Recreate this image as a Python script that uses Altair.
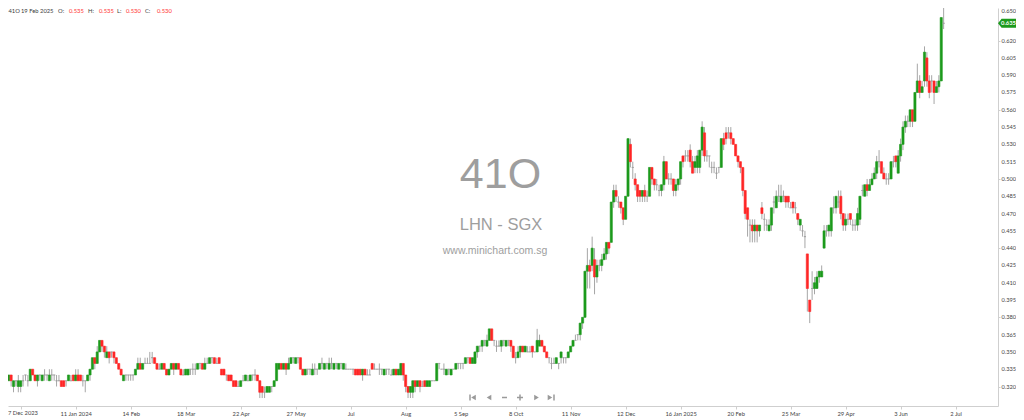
import json
import altair as alt
import pandas as pd

# Daily prices of 41O (LHN) in thousandths of a dollar: 335 -> 0.335
OPEN = [
    345, 335, 330, 325, 330, 320, 325, 320, 320, 325,
    330, 325, 325, 335, 330, 325, 330, 325, 330, 330,
    325, 330, 330, 325, 325, 325, 325, 325, 325, 325,
    330, 325, 330, 330, 325, 325, 325, 330, 335, 345,
    340, 350, 360, 355, 345, 350, 350, 350, 345, 340,
    335, 325, 330, 330, 330, 330, 330, 335, 340, 335,
    340, 340, 340, 345, 345, 340, 335, 335, 340, 335,
    330, 335, 340, 335, 340, 335, 330, 330, 330, 335,
    335, 335, 335, 340, 340, 335, 340, 340, 345, 345,
    340, 345, 335, 335, 330, 330, 330, 325, 325, 320,
    320, 325, 325, 325, 325, 330, 330, 330, 325, 320,
    315, 315, 315, 320, 320, 325, 335, 340, 335, 340,
    335, 340, 345, 340, 345, 345, 335, 330, 335, 335,
    330, 335, 335, 335, 340, 335, 340, 335, 340, 335,
    340, 335, 340, 335, 335, 335, 335, 335, 335, 335,
    335, 330, 335, 330, 330, 340, 335, 335, 335, 335,
    330, 335, 335, 330, 330, 335, 330, 330, 340, 330,
    320, 315, 315, 325, 320, 325, 320, 325, 320, 320,
    325, 325, 325, 340, 335, 335, 330, 335, 330, 335,
    335, 340, 340, 340, 340, 345, 345, 340, 340, 350,
    355, 355, 360, 355, 360, 370, 360, 355, 355, 355,
    360, 355, 360, 360, 355, 345, 345, 350, 355, 350,
    350, 350, 355, 350, 350, 355, 360, 355, 350, 345,
    340, 340, 340, 340, 345, 345, 345, 345, 350, 355,
    360, 365, 365, 375, 380, 420, 425, 425, 430, 415,
    425, 425, 430, 435, 445, 445, 480, 490, 480, 480,
    475, 465, 485, 530, 510, 500, 495, 490, 485, 490,
    485, 485, 510, 500, 495, 490, 490, 495, 515, 500,
    500, 500, 490, 495, 500, 520, 520, 520, 525, 515,
    510, 510, 510, 525, 540, 520, 520, 510, 510, 505,
    510, 510, 535, 540, 540, 540, 535, 530, 520, 515,
    510, 490, 475, 460, 460, 455, 460, 455, 475, 465,
    460, 455, 460, 480, 475, 485, 480, 485, 485, 485,
    475, 480, 475, 470, 460, 455, 450, 435, 395, 405,
    405, 405, 415, 415, 440, 455, 455, 455, 475, 475,
    480, 485, 470, 460, 465, 470, 460, 460, 460, 465,
    490, 485, 495, 490, 495, 500, 505, 515, 515, 505,
    500, 500, 500, 515, 520, 505, 520, 530, 545, 550,
    550, 560, 550, 575, 585, 575, 585, 605, 585, 585,
    585, 575, 580, 585, 635,
]
HIGH = [
    345, 335, 330, 330, 330, 325, 325, 330, 325, 330,
    330, 330, 335, 335, 330, 330, 330, 330, 335, 330,
    335, 335, 330, 330, 330, 325, 325, 325, 330, 330,
    330, 335, 335, 330, 330, 325, 330, 335, 345, 345,
    355, 360, 360, 355, 355, 350, 350, 350, 345, 340,
    335, 330, 330, 330, 330, 330, 335, 345, 345, 340,
    345, 345, 350, 350, 345, 340, 340, 340, 340, 335,
    335, 340, 340, 340, 340, 335, 335, 335, 335, 335,
    340, 340, 340, 340, 340, 345, 345, 345, 345, 345,
    345, 345, 335, 335, 330, 330, 330, 325, 325, 325,
    325, 330, 330, 330, 330, 330, 335, 330, 325, 320,
    320, 320, 320, 320, 325, 340, 340, 340, 340, 340,
    345, 345, 345, 345, 345, 345, 335, 335, 335, 335,
    340, 340, 335, 340, 345, 340, 340, 345, 345, 340,
    340, 340, 340, 340, 340, 335, 335, 335, 335, 335,
    335, 335, 335, 335, 335, 340, 340, 335, 340, 335,
    335, 335, 335, 335, 335, 335, 335, 340, 340, 330,
    320, 320, 325, 325, 325, 325, 325, 325, 325, 325,
    325, 325, 340, 340, 335, 340, 335, 335, 335, 335,
    340, 340, 340, 340, 345, 345, 345, 345, 350, 355,
    355, 360, 360, 365, 370, 370, 360, 360, 360, 360,
    360, 360, 360, 360, 355, 350, 355, 355, 355, 355,
    355, 355, 355, 350, 370, 365, 360, 355, 350, 345,
    345, 345, 345, 340, 350, 345, 345, 350, 355, 360,
    365, 365, 375, 380, 420, 440, 430, 450, 440, 430,
    430, 435, 440, 445, 445, 480, 495, 495, 485, 480,
    475, 485, 535, 535, 515, 505, 495, 490, 490, 495,
    490, 510, 510, 500, 500, 495, 495, 520, 515, 505,
    505, 500, 500, 500, 515, 520, 525, 525, 530, 520,
    520, 525, 525, 550, 545, 525, 520, 515, 515, 510,
    510, 535, 540, 545, 545, 545, 535, 530, 520, 515,
    510, 490, 475, 465, 465, 465, 460, 460, 480, 470,
    465, 465, 475, 485, 490, 495, 495, 490, 485, 485,
    480, 480, 480, 470, 465, 460, 455, 435, 395, 420,
    415, 420, 420, 425, 460, 460, 460, 475, 485, 485,
    490, 490, 470, 470, 470, 470, 465, 465, 475, 485,
    495, 495, 500, 500, 505, 510, 520, 525, 515, 510,
    505, 505, 515, 520, 520, 525, 535, 550, 555, 555,
    560, 560, 575, 600, 590, 585, 615, 610, 590, 590,
    585, 585, 590, 640, 650,
]
LOW = [
    335, 325, 320, 325, 320, 315, 320, 315, 315, 320,
    325, 320, 325, 330, 325, 320, 325, 325, 325, 325,
    325, 325, 325, 320, 325, 320, 320, 320, 325, 325,
    325, 325, 325, 325, 320, 315, 325, 325, 335, 335,
    340, 350, 350, 345, 345, 340, 345, 340, 340, 335,
    330, 325, 325, 325, 325, 325, 330, 335, 335, 335,
    340, 340, 340, 340, 340, 335, 335, 335, 335, 330,
    330, 335, 330, 335, 335, 330, 330, 330, 330, 330,
    330, 330, 335, 335, 335, 335, 340, 340, 340, 340,
    340, 340, 330, 330, 325, 325, 325, 320, 320, 320,
    320, 325, 325, 325, 325, 325, 325, 325, 310, 310,
    310, 315, 315, 315, 320, 325, 335, 335, 335, 330,
    335, 340, 340, 340, 340, 335, 330, 330, 330, 330,
    330, 330, 330, 335, 335, 335, 335, 335, 335, 335,
    335, 335, 335, 335, 335, 335, 335, 330, 330, 330,
    330, 325, 330, 330, 330, 335, 335, 335, 330, 330,
    330, 330, 330, 330, 330, 330, 330, 330, 325, 315,
    310, 310, 310, 315, 320, 315, 320, 320, 320, 320,
    325, 325, 325, 335, 335, 330, 330, 330, 330, 335,
    335, 335, 335, 335, 340, 340, 340, 340, 340, 345,
    350, 350, 355, 355, 360, 360, 355, 350, 355, 350,
    355, 355, 355, 350, 345, 340, 345, 345, 350, 350,
    350, 350, 345, 350, 350, 355, 355, 350, 345, 340,
    335, 340, 340, 335, 340, 340, 340, 345, 350, 355,
    360, 360, 360, 370, 380, 405, 405, 420, 400, 410,
    420, 420, 430, 430, 435, 445, 475, 480, 475, 470,
    460, 465, 485, 510, 500, 490, 480, 480, 480, 480,
    480, 485, 495, 490, 490, 485, 485, 490, 500, 495,
    495, 485, 485, 490, 495, 510, 515, 515, 510, 505,
    505, 505, 505, 520, 515, 515, 510, 505, 505, 500,
    505, 510, 525, 530, 535, 530, 530, 520, 510, 505,
    485, 465, 450, 445, 445, 445, 445, 450, 465, 455,
    455, 455, 455, 470, 475, 480, 480, 480, 475, 475,
    475, 470, 470, 460, 455, 450, 440, 385, 375, 395,
    400, 405, 410, 415, 440, 450, 450, 450, 470, 470,
    475, 465, 455, 455, 460, 460, 455, 455, 455, 460,
    485, 485, 485, 490, 495, 500, 500, 510, 505, 500,
    495, 495, 500, 510, 510, 505, 515, 525, 540, 545,
    545, 545, 550, 575, 570, 575, 580, 580, 570, 575,
    565, 575, 575, 585, 630,
]
CLOSE = [
    335, 325, 325, 330, 325, 325, 325, 325, 325, 325,
    330, 325, 335, 330, 325, 330, 330, 330, 330, 330,
    330, 330, 330, 325, 325, 320, 320, 325, 330, 325,
    325, 330, 325, 325, 325, 325, 330, 335, 345, 340,
    350, 360, 355, 350, 350, 345, 350, 345, 340, 335,
    330, 330, 330, 330, 330, 330, 335, 340, 335, 340,
    340, 340, 340, 345, 340, 335, 335, 340, 335, 330,
    335, 340, 335, 340, 335, 330, 330, 335, 335, 335,
    335, 335, 340, 340, 335, 340, 340, 345, 345, 340,
    340, 340, 330, 330, 330, 325, 325, 320, 320, 320,
    325, 325, 330, 325, 330, 330, 330, 325, 315, 315,
    315, 320, 320, 320, 325, 340, 340, 335, 340, 335,
    340, 345, 345, 345, 345, 335, 330, 335, 335, 335,
    335, 335, 335, 340, 340, 340, 340, 340, 340, 340,
    340, 340, 340, 340, 335, 335, 335, 335, 330, 330,
    330, 335, 330, 330, 330, 335, 335, 335, 335, 335,
    335, 335, 335, 330, 335, 330, 335, 340, 330, 320,
    315, 320, 325, 320, 325, 320, 320, 320, 325, 325,
    325, 325, 340, 340, 335, 335, 335, 335, 335, 335,
    340, 340, 340, 340, 345, 345, 340, 345, 350, 355,
    355, 360, 360, 360, 370, 360, 360, 355, 355, 360,
    360, 360, 360, 355, 345, 345, 350, 355, 350, 355,
    350, 350, 350, 350, 360, 360, 355, 350, 345, 345,
    340, 340, 345, 340, 350, 345, 345, 350, 355, 360,
    360, 365, 375, 380, 420, 425, 420, 440, 415, 425,
    425, 430, 435, 445, 440, 480, 490, 485, 480, 475,
    465, 485, 535, 515, 510, 495, 485, 485, 490, 485,
    485, 510, 500, 495, 495, 490, 495, 515, 500, 500,
    500, 490, 495, 500, 515, 515, 520, 520, 515, 505,
    515, 520, 525, 545, 520, 520, 520, 510, 510, 505,
    510, 535, 530, 535, 540, 535, 530, 520, 515, 510,
    490, 470, 465, 460, 455, 460, 455, 460, 470, 465,
    460, 460, 475, 480, 485, 485, 485, 485, 480, 480,
    475, 475, 475, 465, 465, 455, 450, 405, 385, 405,
    410, 415, 420, 420, 455, 455, 460, 475, 475, 485,
    480, 470, 460, 465, 465, 465, 460, 460, 470, 485,
    490, 495, 490, 495, 500, 505, 515, 515, 505, 500,
    500, 500, 515, 515, 515, 520, 530, 545, 550, 550,
    560, 550, 575, 585, 575, 580, 610, 585, 575, 585,
    575, 580, 585, 640, 635,
]

# x axis: bar index of each date label
TICK_INDEX = [8, 31, 54, 77, 100, 123, 146, 169, 192, 215, 238, 261, 284, 307, 330, 353, 376, 399]
TICK_LABELS = ["7 Dec 2023", "11 Jan 2024", "14 Feb", "18 Mar", "22 Apr", "27 May", "Jul", "Aug",
               "5 Sep", "8 Oct", "11 Nov", "12 Dec", "16 Jan 2025", "20 Feb", "25 Mar", "29 Apr",
               "3 Jun", "2 Jul"]
PRICE_TICKS = [0.320, 0.335, 0.350, 0.365, 0.380, 0.395, 0.410, 0.425, 0.440, 0.455, 0.470,
               0.485, 0.500, 0.515, 0.530, 0.545, 0.560, 0.575, 0.590, 0.605, 0.620, 0.635, 0.650]

SYMBOL = "41O"
NAME = "LHN - SGX"
SITE = "www.minichart.com.sg"
HEADER_DATE = "19 Feb 2025"
HEADER_INDEX = 306

GREEN = "#1c9a1c"
RED = "#ff2626"
GRAY = "#a6a6a6"
SMALL = 5.8
AXIS_TEXT = "#444444"

n = min(len(OPEN), len(HIGH), len(LOW), len(CLOSE))
df = pd.DataFrame({
    "i": list(range(n)),
    "o": [v / 1000 for v in OPEN[:n]],
    "h": [v / 1000 for v in HIGH[:n]],
    "l": [v / 1000 for v in LOW[:n]],
    "c": [v / 1000 for v in CLOSE[:n]],
})
df["dir"] = ["up" if c > o else ("down" if c < o else "flat") for o, c in zip(df["o"], df["c"])]
last = n - 1

W, H = 990, 398
Y_TOP = 0.64827
xscale = alt.Scale(domain=[2.69, 416.74], nice=False, zero=False)
yscale = alt.Scale(domain=[0.3031, Y_TOP], nice=False, zero=False)

# first label is drawn separately (it would run past the left edge)
axis_labels = [""] + TICK_LABELS[1:]
label_expr = f"{json.dumps(axis_labels)}[indexof({json.dumps(TICK_INDEX)}, datum.value)]"

base = alt.Chart(df)

wicks = base.mark_rule(color=GRAY, strokeWidth=1, clip=True).encode(
    x=alt.X("i:Q", scale=xscale, title=None,
            axis=alt.Axis(values=TICK_INDEX, labelExpr=label_expr, tickSize=3,
                          labelPadding=1, labelFlush=False, labelOverlap=False)),
    y=alt.Y("l:Q", scale=yscale, title=None,
            axis=alt.Axis(orient="right", values=PRICE_TICKS, tickSize=2, labels=False)),
    y2="h:Q",
)

color_scale = alt.Scale(domain=["up", "down", "flat"], range=[GREEN, RED, "#9a9a9a"])
bodies = base.transform_calculate(
    x1="datum.i - 0.45", x2="datum.i + 0.45",
    top="max(datum.o, datum.c)", bot="min(datum.o, datum.c)",
).mark_rect(clip=True, strokeWidth=0.6).encode(
    x=alt.X("x1:Q", scale=xscale, title=None),
    x2="x2:Q",
    y=alt.Y("top:Q", scale=yscale, title=None),
    y2="bot:Q",
    color=alt.Color("dir:N", scale=color_scale, legend=None),
    stroke=alt.Stroke("dir:N", scale=color_scale, legend=None),
)

# price labels of the right axis, drawn as text so none is culled
price_df = pd.DataFrame({"v": PRICE_TICKS})
price_labels = alt.Chart(price_df).transform_calculate(
    pos=f"min(datum.v, {Y_TOP} - 0.0022)"
).mark_text(font="Lato", fontSize=5.7, color=AXIS_TEXT, align="left", baseline="middle",
            clip=False).encode(
    x=alt.value(W + 3.5),
    y=alt.Y("pos:Q", scale=yscale, title=None),
    text=alt.Text("v:Q", format=".3f"),
)

last_bar = base.transform_filter(f"datum.i == {last}")
tag_shape = "M -1 0 L -0.6 -0.5 L 1 -0.5 L 1 0.5 L -0.6 0.5 Z"
tag = last_bar.mark_point(shape=tag_shape, filled=True, size=324, color=GREEN, opacity=1,
                          clip=False).encode(x=alt.value(999), y=alt.Y("c:Q", scale=yscale, title=None))
tag_text = last_bar.mark_text(color="white", fontSize=SMALL, fontWeight="bold", font="Lato",
                              align="center", baseline="middle", clip=False).encode(
    x=alt.value(1000.5), y=alt.Y("c:Q", scale=yscale, title=None),
    text=alt.Text("c:Q", format=".3f"))

one = pd.DataFrame({"k": [0]})


def txt(text, x, y, size, color, font="Lato", align="left", baseline="middle", weight="normal"):
    return alt.Chart(one).mark_text(
        text=text, fontSize=size, color=color, font=font, align=align,
        baseline=baseline, fontWeight=weight, clip=False,
    ).encode(x=alt.value(x), y=alt.value(y))


first_label = txt(TICK_LABELS[0], 0, H + 4, SMALL, AXIS_TEXT, baseline="top")

wm_color = "#9e9e9e"
watermark = [
    txt(SYMBOL, 492.5, 180, 43, wm_color, font="Liberation Sans", align="center", baseline="alphabetic"),
    txt(NAME, 493, 222, 16.5, wm_color, font="Liberation Sans", align="center", baseline="alphabetic"),
    txt(SITE, 487, 246, 10.5, wm_color, font="Liberation Sans", align="center", baseline="alphabetic"),
]

hb = df.iloc[HEADER_INDEX]
hdr_gray = "#3a3a3a"
hdr_red = "#ff3030"
header = [
    txt(SYMBOL, 0.5, 3, SMALL, hdr_gray),
    txt(HEADER_DATE, 13, 3, SMALL, hdr_gray),
    txt("O:", 50, 3, SMALL, hdr_gray),
    txt(f"{hb['o']:.3f}", 61, 3, SMALL, hdr_red),
    txt("H:", 80, 3, SMALL, hdr_gray),
    txt(f"{hb['h']:.3f}", 91, 3, SMALL, hdr_red),
    txt("L:", 109, 3, SMALL, hdr_gray),
    txt(f"{hb['l']:.3f}", 118, 3, SMALL, hdr_red),
    txt("C:", 137, 3, SMALL, hdr_gray),
    txt(f"{hb['c']:.3f}", 149, 3, SMALL, hdr_red),
]

nav_color = "#9a9a9a"


def tri(shape, x):
    return alt.Chart(one).mark_point(shape=shape, filled=True, size=28, color=nav_color,
                                     opacity=1, clip=False).encode(x=alt.value(x), y=alt.value(389.5))


def bar_v(x, y1, y2):
    return alt.Chart(one).mark_rule(color=nav_color, strokeWidth=1.5).encode(
        x=alt.value(x), y=alt.value(y1), y2=alt.value(y2))


def bar_h(x1, x2, y):
    return alt.Chart(one).mark_rule(color=nav_color, strokeWidth=1.5).encode(
        x=alt.value(x1), x2=alt.value(x2), y=alt.value(y))


nav = [
    bar_v(462, 386.5, 392.5), tri("triangle-left", 465.5),
    tri("triangle-left", 481),
    bar_h(494, 499, 389.5),
    bar_h(509, 515, 389.5), bar_v(512, 386.5, 392.5),
    tri("triangle-right", 528.5),
    tri("triangle-right", 542), bar_v(546, 386.5, 392.5),
]

chart = alt.layer(
    *watermark, wicks, bodies, price_labels, tag, tag_text, first_label, *header, *nav
).properties(
    width=W, height=H,
    autosize=alt.AutoSizeParams(type="none"),
    padding={"left": 0, "top": 0, "right": 1008 - W, "bottom": 14},
    background="white",
).configure_view(stroke=None).configure_axis(
    labelFont="Lato", labelFontSize=SMALL, labelColor=AXIS_TEXT, labelOverlap=False,
    domainColor="#cfcfcf", tickColor="#cfcfcf", grid=False, title=None,
)

chart.save("out.html", embed_options={"renderer": "svg", "actions": False})
